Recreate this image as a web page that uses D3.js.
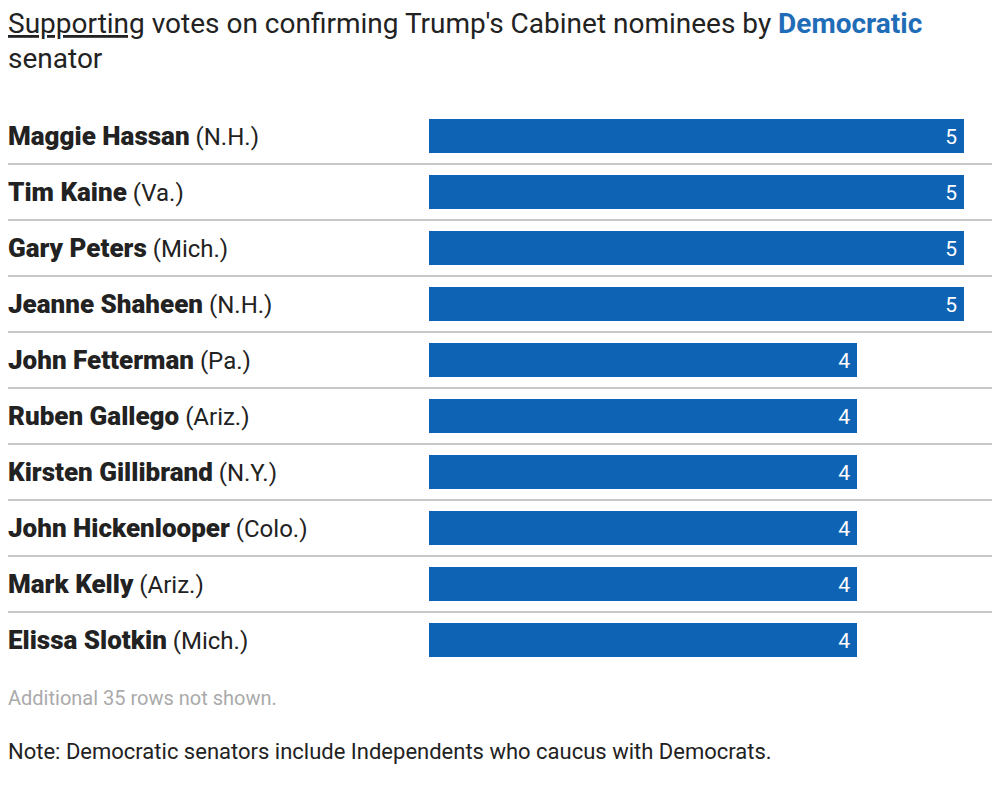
<!DOCTYPE html>
<html>
<head>
<meta charset="utf-8">
<style>
  body { margin: 0; background: #fff; }
  text { font-family: Roboto, "Liberation Sans", sans-serif; }
</style>
</head>
<body>
<script src="https://d3js.org/d3.v7.min.js"></script>
<script>
  const names = ['Maggie Hassan', 'Tim Kaine', 'Gary Peters', 'Jeanne Shaheen', 'John Fetterman',
    'Ruben Gallego', 'Kirsten Gillibrand', 'John Hickenlooper', 'Mark Kelly', 'Elissa Slotkin']
  const states = ['N.H.', 'Va.', 'Mich.', 'N.H.', 'Pa.', 'Ariz.', 'N.Y.', 'Colo.', 'Ariz.', 'Mich.']
  const votes = [5, 5, 5, 5, 4, 4, 4, 4, 4, 4]

  const width = 1000
  const height = 785
  const blue = '#0f63b5'

  const svg = d3.select('body').append('svg')
    .attr('width', width)
    .attr('height', height)

  // title
  const t1 = svg.append('text').attr('x', 8).attr('y', 33)
    .attr('font-size', '28px').attr('fill', '#222')
  t1.append('tspan').attr('text-decoration', 'underline').text('Supporting')
  t1.append('tspan').text(" votes on confirming Trump's Cabinet nominees by ")
  t1.append('tspan').attr('font-weight', 'bold').attr('fill', '#1f6cb7').text('Democratic')
  svg.append('text').attr('x', 8).attr('y', 68)
    .attr('font-size', '28px').attr('fill', '#222').text('senator')

  // scales
  const x = d3.scaleLinear().domain([0, 5]).range([429, 964])
  const y = d3.scaleBand().domain(names).range([108, 668]).paddingInner(0).paddingOuter(0)
  const barH = 34

  const rows = svg.selectAll('g.row')
    .data(names)
    .enter().append('g')
    .attr('class', 'row')
    .attr('transform', d => `translate(0, ${y(d)})`)

  // separators
  rows.filter((d, i) => i < names.length - 1)
    .append('line')
    .attr('x1', 8).attr('x2', 992)
    .attr('y1', y.bandwidth()).attr('y2', y.bandwidth())
    .attr('stroke', '#c8c8c8').attr('stroke-width', 2)

  const lab = rows.append('text')
    .attr('x', 8).attr('y', y.bandwidth() / 2 + 9)
    .attr('fill', '#222')
  lab.append('tspan').attr('font-weight', 900).attr('font-size', '26px').text(d => d)
  lab.append('tspan').attr('font-size', '24px').text((d, i) => ` (${states[i]})`)

  rows.append('rect')
    .attr('x', x(0))
    .attr('y', (y.bandwidth() - barH) / 2)
    .attr('width', (d, i) => x(votes[i]) - x(0))
    .attr('height', barH)
    .attr('fill', blue)

  rows.append('text')
    .attr('x', (d, i) => x(votes[i]) - 7)
    .attr('y', y.bandwidth() / 2 + 8)
    .attr('text-anchor', 'end')
    .attr('font-size', '21px').attr('fill', '#fff')
    .text((d, i) => votes[i])

  svg.append('text').attr('x', 8).attr('y', 705)
    .attr('font-size', '20px').attr('fill', '#aaa')
    .text('Additional 35 rows not shown.')

  svg.append('text').attr('x', 8).attr('y', 759)
    .attr('font-size', '22px').attr('fill', '#222')
    .text('Note: Democratic senators include Independents who caucus with Democrats.')
</script>
</body>
</html>
